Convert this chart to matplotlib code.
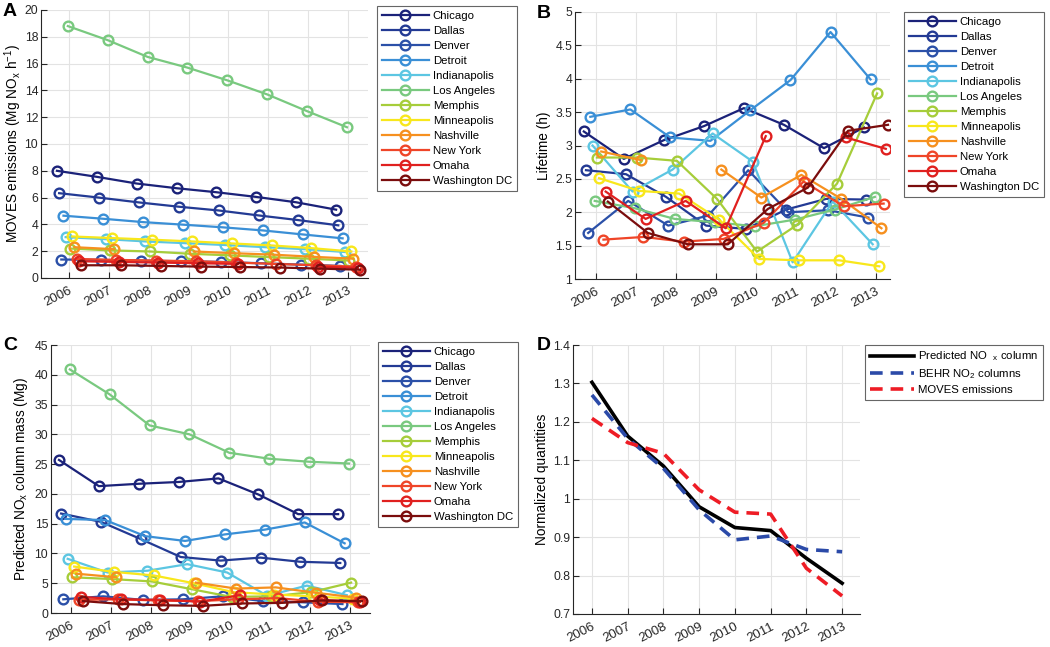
import numpy as np
import matplotlib
matplotlib.use('Agg')
from matplotlib import pyplot as plt
from matplotlib import transforms
from matplotlib.ticker import FormatStrFormatter

plt.rcParams['font.family'] = ['Liberation Sans', 'DejaVu Sans']
plt.rcParams['mathtext.fontset'] = 'custom'
plt.rcParams['mathtext.rm'] = 'Liberation Sans'
plt.rcParams['mathtext.it'] = 'Liberation Sans'

nan = np.nan
years = [2006, 2007, 2008, 2009, 2010, 2011, 2012, 2013]
cities = ['Chicago', 'Dallas', 'Denver', 'Detroit', 'Indianapolis', 'Los Angeles',
          'Memphis', 'Minneapolis', 'Nashville', 'New York', 'Omaha', 'Washington DC']
colors = ['#1b2279', '#233a94', '#2b50a8', '#3a8fd6', '#5cc6e2', '#79c97f',
          '#a6cd3a', '#f8e71c', '#f6901f', '#ef4528', '#e0201f', '#7b0d0d']

# A: MOVES emissions (Mg NOx / h)
emissions = [
    [8.0, 7.55, 7.05, 6.7, 6.4, 6.05, 5.65, 5.1],
    [6.33, 6.0, 5.64, 5.32, 5.04, 4.67, 4.32, 3.93],
    [1.38, 1.35, 1.3, 1.25, 1.2, 1.1, 1.0, 0.9],
    [4.65, 4.42, 4.17, 3.98, 3.78, 3.55, 3.25, 2.96],
    [3.05, 2.9, 2.73, 2.6, 2.46, 2.3, 2.15, 1.94],
    [18.8, 17.75, 16.5, 15.7, 14.75, 13.7, 12.45, 11.25],
    [2.2, 2.06, 1.98, 1.81, 1.69, 1.56, 1.44, 1.3],
    [3.1, 2.98, 2.86, 2.73, 2.58, 2.43, 2.23, 1.98],
    [2.3, 2.15, nan, 1.98, 1.85, 1.74, 1.58, 1.44],
    [1.42, 1.35, 1.3, 1.25, 1.15, 1.05, 0.95, 0.85],
    [1.25, 1.2, 1.15, 1.1, 1.05, nan, 0.85, 0.75],
    [0.95, 0.95, 0.9, 0.85, 0.82, 0.78, 0.7, 0.62],
]

# B: lifetime (h)
lifetime = [
    [3.21, 2.80, 3.08, 3.29, 3.56, 3.31, 2.96, 3.27],
    [2.63, 2.57, 2.23, 1.80, 1.75, 2.04, 2.20, 2.19],
    [1.69, 2.17, 1.80, 1.95, 2.63, 2.00, 2.03, 1.92],
    [3.43, 3.54, 3.12, 3.07, 3.53, 3.98, 4.70, 3.99],
    [3.00, 2.31, 2.64, 3.18, 2.76, 1.25, 2.16, 1.52],
    [2.17, 2.06, 1.90, 1.85, 1.79, 1.89, 2.04, 2.23],
    [2.82, 2.82, 2.77, 2.20, 1.41, 1.81, 2.43, 3.78],
    [2.51, 2.32, 2.28, 1.89, 1.30, 1.28, 1.28, 1.19],
    [2.91, 2.78, nan, 2.64, 2.22, 2.56, 2.20, 1.76],
    [1.59, 1.63, 1.56, 1.60, 1.84, 2.46, 2.09, 2.13],
    [2.31, 1.90, 2.17, 1.76, 3.14, nan, 3.12, 2.95],
    [2.16, 1.69, 1.52, 1.52, 2.05, 2.37, 3.22, 3.31],
]

# C: predicted NOx column mass (Mg)
column_mass = [
    [25.7, 21.3, 21.7, 22.0, 22.6, 19.9, 16.6, 16.6],
    [16.7, 15.3, 12.4, 9.4, 8.8, 9.3, 8.6, 8.4],
    [2.3, 2.8, 2.2, 2.3, 2.8, 2.0, 1.8, 1.5],
    [15.8, 15.6, 12.9, 12.1, 13.2, 14.0, 15.2, 11.7],
    [9.1, 6.8, 7.1, 8.2, 6.8, 2.9, 4.6, 3.0],
    [40.9, 36.7, 31.5, 30.0, 26.9, 25.9, 25.4, 25.1],
    [6.0, 5.7, 5.3, 4.0, 2.7, 2.8, 3.5, 5.1],
    [7.8, 6.9, 6.3, 5.0, 3.5, 3.1, 2.8, 2.4],
    [6.6, 6.0, nan, 5.1, 4.1, 4.3, 3.4, 2.6],
    [2.2, 2.3, 2.1, 2.0, 2.3, 2.5, 1.9, 1.8],
    [2.7, 2.3, 2.2, 1.9, 3.0, nan, 2.2, 1.9],
    [2.0, 1.5, 1.3, 1.2, 1.6, 1.7, 2.1, 2.0],
]

# D: normalized quantities
predicted_nox = [1.303, 1.163, 1.085, 0.979, 0.925, 0.917, 0.845, 0.780]
behr_no2 = [1.270, 1.157, 1.079, 0.971, 0.893, 0.903, 0.868, 0.862]
moves_norm = [1.209, 1.146, 1.118, 1.023, 0.965, 0.960, 0.819, 0.747]

offsets = np.linspace(-0.3, 0.3, len(cities))

fig = plt.figure(figsize=(10.5, 6.47), dpi=100)
W, H = 1050, 647
TXT = '#262626'


def add_axes(l, r, t, b):
    return fig.add_axes([l / W, 1 - b / H, (r - l) / W, (b - t) / H])


def style(ax, xlim, ylim, yticks, fmt='%g'):
    ax.set_xlim(xlim)
    ax.set_ylim(ylim)
    ax.set_xticks(years)
    ax.set_xticklabels([str(y) for y in years], rotation=27, ha='right',
                       va='top', rotation_mode='anchor', fontsize=9.5)
    shift = transforms.ScaledTranslation(9 / 100, 0, fig.dpi_scale_trans)
    for lab in ax.get_xticklabels():
        lab.set_transform(lab.get_transform() + shift)
    ax.set_yticks(yticks)
    ax.yaxis.set_major_formatter(FormatStrFormatter(fmt))
    ax.tick_params(direction='in', length=4, width=0.8, colors=TXT,
                   labelsize=8.8)
    ax.tick_params(axis='y', pad=2)
    ax.tick_params(axis='x', labelsize=9.5, pad=5)
    for s in ['top', 'right']:
        ax.spines[s].set_visible(False)
    for s in ['left', 'bottom']:
        ax.spines[s].set_color(TXT)
        ax.spines[s].set_linewidth(0.8)
    ax.grid(True, color='#e3e3e3', lw=0.8)
    ax.set_axisbelow(True)


def frame(leg):
    leg.get_frame().set_edgecolor('#666666')
    leg.get_frame().set_linewidth(0.8)


def city_panel(ax, data, legend_xy):
    yr = np.array(years, dtype=float)
    for i, name in enumerate(cities):
        ax.plot(yr + offsets[i], data[i], '-o', color=colors[i], lw=1.6,
                ms=7, mfc='none', mew=1.7, label=name)
    leg = ax.legend(loc='upper left', bbox_to_anchor=legend_xy,
                    bbox_transform=fig.transFigure, fontsize=8.2,
                    handlelength=4.1, labelspacing=0.44, borderpad=0.45,
                    handletextpad=0.35, borderaxespad=0, fancybox=False,
                    framealpha=1)
    frame(leg)


# A
axA = add_axes(41, 368, 10, 278)
city_panel(axA, emissions, (377 / W, 1 - 6 / H))
style(axA, (2005.3, 2013.5), (0, 20), np.arange(0, 21, 2))
axA.set_ylabel('MOVES emissions (Mg NO$_x$ h$^{-1}$)', fontsize=9.8, labelpad=0.5)

# B
axB = add_axes(575, 890, 12, 279)
city_panel(axB, lifetime, (904 / W, 1 - 12 / H))
style(axB, (2005.48, 2013.35), (1, 5), np.arange(1, 5.01, 0.5))
axB.set_ylabel('Lifetime (h)', fontsize=9.8, labelpad=3)

# C
axC = add_axes(51, 370, 345, 613)
city_panel(axC, column_mass, (378 / W, 1 - 342 / H))
style(axC, (2005.5, 2013.5), (0, 45), np.arange(0, 46, 5))
axC.set_ylabel('Predicted NO$_x$ column mass (Mg)', fontsize=9.8, labelpad=3)

# D
axD = add_axes(573, 860, 345, 614)
axD.plot(years, predicted_nox, '-', color='black', lw=2.6,
         label='Predicted NO  $_x$ column')
axD.plot(years, behr_no2, '--', color='#2b4aa8', lw=2.6, dashes=(3.5, 2.2),
         label='BEHR NO$_2$ columns')
axD.plot(years, moves_norm, '--', color='#ee1c25', lw=2.6, dashes=(3.5, 2.2),
         label='MOVES emissions')
style(axD, (2005.47, 2013.5), (0.7, 1.4), np.round(np.arange(0.7, 1.41, 0.1), 1))
axD.set_ylabel('Normalized quantities', fontsize=9.8, labelpad=3)
legD = axD.legend(loc='upper left', bbox_to_anchor=(865 / W, 1 - 345 / H),
                  bbox_transform=fig.transFigure, fontsize=8.2,
                  handlelength=3.9, labelspacing=0.35, borderpad=0.4,
                  handletextpad=0.35, borderaxespad=0, fancybox=False,
                  framealpha=1)
frame(legD)

# panel letters
for lbl, x, y in [('A', 3, 3), ('B', 537, 5), ('C', 3, 337), ('D', 537, 337)]:
    fig.text(x / W, 1 - y / H, lbl, fontsize=14, fontweight='bold',
             va='top', ha='left')

fig.savefig('out.png', dpi=100)
